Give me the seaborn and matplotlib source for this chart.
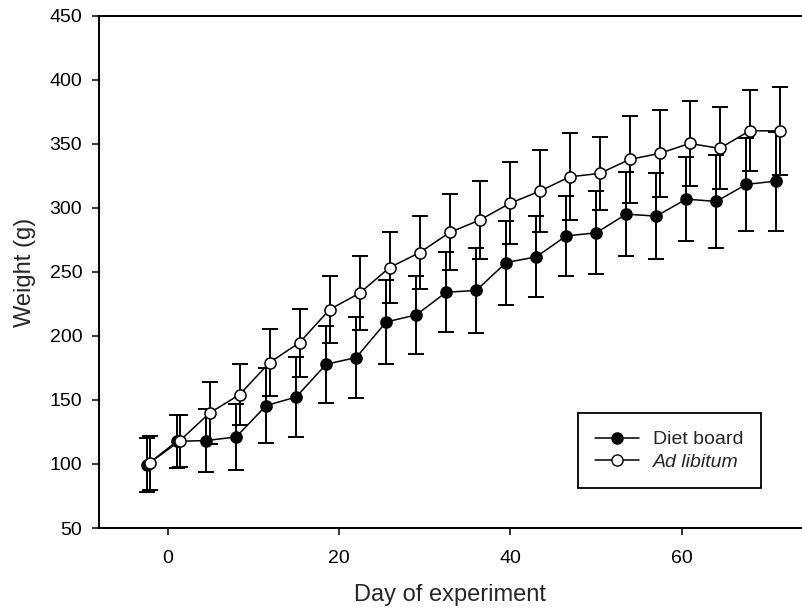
import pandas as pd
import matplotlib
matplotlib.use("Agg")
import matplotlib.pyplot as plt
import seaborn as sns

# weights (mean +/- SD)
days_diet = [-2.4, 1.1, 4.5, 8.0, 11.5, 15.0, 18.5, 22.0, 25.5, 29.0, 32.5,
             36.0, 39.5, 43.0, 46.5, 50.0, 53.5, 57.0, 60.5, 64.0, 67.5, 71.0]
days_adlib = [-2.1, 1.4, 4.9, 8.4, 11.9, 15.4, 18.9, 22.4, 25.9, 29.4, 32.9,
              36.4, 39.9, 43.4, 46.9, 50.4, 53.9, 57.4, 60.9, 64.4, 67.9, 71.4]
diet_mean = [99.5, 117.7, 118.3, 121.1, 145.6, 152.3, 177.9, 183.1, 210.9, 216.4, 234.1,
             235.5, 257.3, 261.7, 278.1, 280.5, 295.1, 293.5, 306.8, 305.0, 318.3, 320.9]
diet_sd = [21, 20.5, 24.5, 26, 29, 31, 30, 31.5, 33, 30.7, 31.4,
           33.4, 32.8, 31.7, 31.5, 32.5, 32.8, 33.8, 32.6, 36, 36.5, 38.6]
adlib_mean = [100.8, 118.0, 139.8, 154.2, 179.2, 194.8, 220.6, 233.4, 253.4, 265.0, 280.8,
              290.4, 303.4, 313.0, 324.2, 326.9, 337.8, 342.5, 350.3, 346.4, 360.2, 360.0]
adlib_sd = [21, 20.5, 24, 24, 26, 26.6, 26.3, 29, 27.4, 28.5, 29.7,
            30.5, 32, 32, 34, 28.6, 33.8, 33.8, 33.3, 32, 31.8, 34]

diet = pd.DataFrame({"day": days_diet, "weight": diet_mean, "sd": diet_sd})
adlib = pd.DataFrame({"day": days_adlib, "weight": adlib_mean, "sd": adlib_sd})

sns.set_style("ticks")
plt.rcParams["font.family"] = ["Liberation Sans", "DejaVu Sans"]

fig = plt.figure(figsize=(8.02, 6.14), dpi=100)
ax = fig.add_axes([0.1234, 0.140, 0.8766, 0.8344])

for df, face in [(diet, "black"), (adlib, "white")]:
    ax.errorbar(df["day"], df["weight"], yerr=df["sd"], fmt="none",
                ecolor="black", elinewidth=1.4, capsize=5.5, capthick=1.4, zorder=2)
    sns.lineplot(data=df, x="day", y="weight", ax=ax, color="black", linewidth=1.1,
                 marker="o", markersize=8, markerfacecolor=face,
                 markeredgecolor="black", markeredgewidth=1.1, zorder=3)

ax.set_xlim(-8, 74)
ax.set_ylim(50, 450)
ax.set_xticks([0, 20, 40, 60])
ax.set_yticks(range(50, 451, 50))
ax.tick_params(direction="out", length=5, width=1.1, labelsize=14, colors="black")
ax.tick_params(axis="x", pad=11)
ax.tick_params(axis="y", pad=7)
for s in ["left", "top", "bottom"]:
    ax.spines[s].set_linewidth(1.4)
    ax.spines[s].set_color("black")
ax.spines["right"].set_visible(False)

ax.set_xlabel("Day of experiment", fontsize=17, labelpad=12)
ax.set_ylabel("Weight (g)", fontsize=17, labelpad=10)

h1 = plt.Line2D([], [], color="black", lw=1.1, marker="o", markersize=8,
                markerfacecolor="black", markeredgecolor="black")
h2 = plt.Line2D([], [], color="black", lw=1.1, marker="o", markersize=8,
                markerfacecolor="white", markeredgecolor="black")
leg = ax.legend([h1, h2], ["Diet board", "Ad libitum"], loc="lower right",
                bbox_to_anchor=(0.955, 0.0586), fontsize=14, frameon=True,
                fancybox=False, edgecolor="black", framealpha=1,
                handlelength=2.25, handletextpad=0.7, borderpad=0.9,
                labelspacing=0.25)
leg.get_frame().set_linewidth(1.3)
leg.get_texts()[1].set_style("italic")

fig.savefig("out.png", dpi=100)
